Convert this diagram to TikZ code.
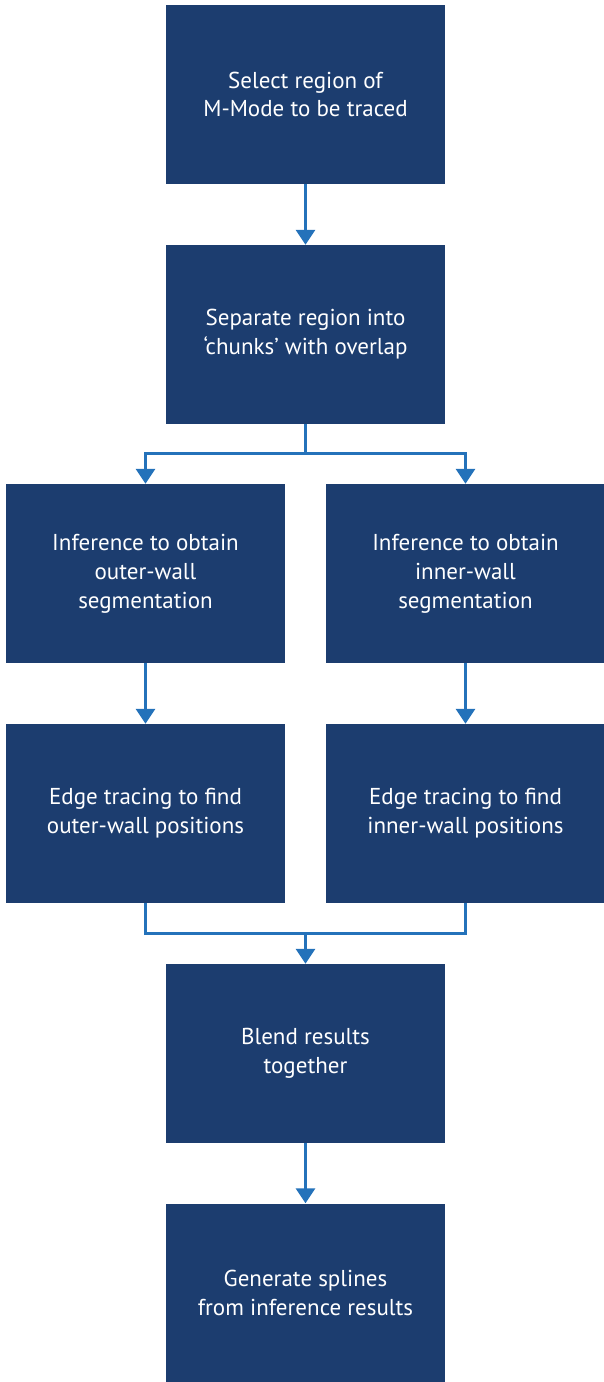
\documentclass[tikz,border=0pt]{standalone}
\usepackage{fontspec}
\setmainfont{PT Sans}
\usetikzlibrary{arrows.meta}
\definecolor{boxblue}{RGB}{28,61,111}
\definecolor{linkblue}{RGB}{36,114,186}
\begin{document}
\begin{tikzpicture}[x=1pt,y=-1pt,
  stepbox/.style={rectangle, fill=boxblue, draw=none, minimum width=279pt, minimum height=179pt,
    inner sep=0pt, text=white, align=center, font=\fontsize{23}{28.8}\selectfont},
  link/.style={draw=linkblue, line width=3pt, -{Triangle[length=15pt,width=19pt]}},
  plain/.style={draw=linkblue, line width=3pt}]
\useasboundingbox (0,0) rectangle (604,1382);
\node[stepbox] (b1) at (305.5,94.5) {Select region of\\M-Mode to be traced};
\node[stepbox] (b2) at (305.5,334.5) {Separate region into\\‘chunks’ with overlap};
\node[stepbox] (b3l) at (145.5,573.5) {Inference to obtain\\outer-wall\\segmentation};
\node[stepbox] (b3r) at (465.5,573.5) {Inference to obtain\\inner-wall\\segmentation};
\node[stepbox] (b4l) at (145.5,813.5) {Edge tracing to find\\outer-wall positions};
\node[stepbox] (b4r) at (465.5,813.5) {Edge tracing to find\\inner-wall positions};
\node[stepbox] (b5) at (305.5,1053.5) {Blend results\\together};
\node[stepbox] (b6) at (305.5,1293) {Generate splines\\from inference results};
\coordinate (split) at (305.5,453);
\coordinate (merge) at (305.5,933);
\draw[link] (b1) -- (b2);
\draw[plain] (b2.south) -- (split);
\draw[link] (split) -| (b3l.north);
\draw[link] (split) -| (b3r.north);
\draw[link] (b3l) -- (b4l);
\draw[link] (b3r) -- (b4r);
\draw[plain] (b4l.south) |- (merge);
\draw[plain] (b4r.south) |- (merge);
\draw[link] (merge) -- (b5.north);
\draw[link] (b5) -- (b6);
\end{tikzpicture}
\end{document}
